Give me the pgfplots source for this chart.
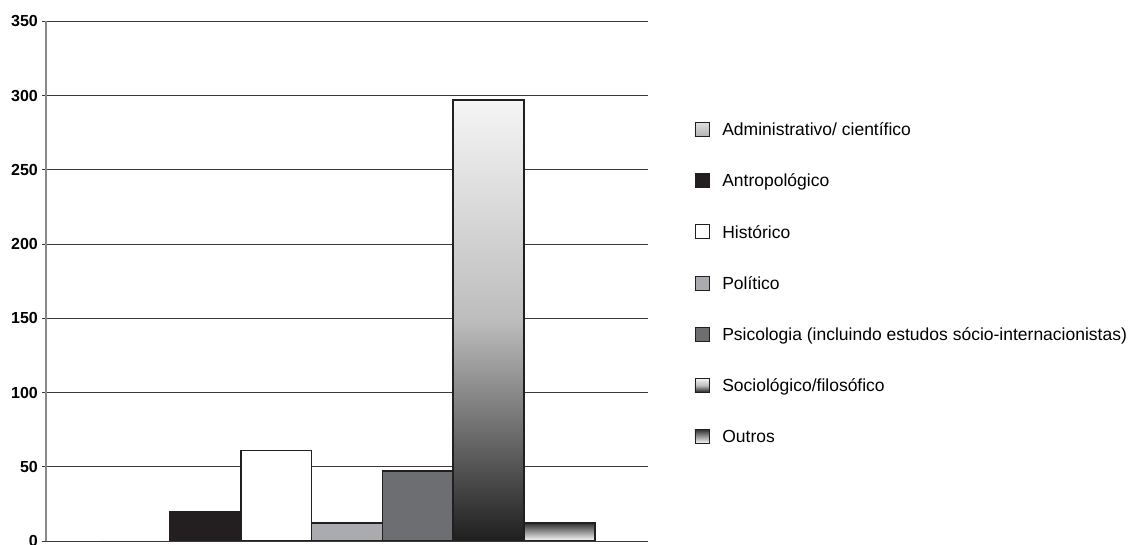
\documentclass[border=0pt]{standalone}
\usepackage{fontspec}
\setmainfont{Liberation Sans}
\usepackage{pgfplots}
\pgfplotsset{compat=1.18}

\definecolor{antro}{HTML}{231F20}
\definecolor{polit}{HTML}{A9ABAE}
\definecolor{psico}{HTML}{6D6E71}
\definecolor{admin}{HTML}{D1D2D4}
\definecolor{gridc}{HTML}{3A3A3A}
\definecolor{yaxisc}{HTML}{8A8A8A}
\definecolor{edge}{HTML}{231F20}

\begin{document}
\begin{tikzpicture}
\begin{axis}[
  name=ax,
  scale only axis,
  width=602pt, height=519.5pt,
  xmin=-1.248, xmax=7.248,
  ymin=0, ymax=350,
  ytick={0,50,...,350},
  xtick=\empty,
  separate axis lines,
  axis x line*=bottom,
  x axis line style={draw=none},
  axis y line*=left,
  y axis line style={-, yaxisc, line width=1.6pt},
  ymajorgrids,
  major grid style={gridc, line width=0.9pt},
  ytick style={gridc, line width=0.9pt},
  tick align=outside,
  major tick length=4pt,
  /pgf/number format/assume math mode=true,
  yticklabel style={font=\bfseries\fontsize{16}{16}\selectfont, inner sep=0pt, xshift=-4pt},
  every axis plot/.append style={
    ybar, bar width=1, bar shift=0pt,
    draw=edge, line width=1.6pt,
    legend image code/.code={\draw[##1, draw=edge, line width=0.8pt] (0pt,-7pt) rectangle (14pt,7pt);}
  },
  legend style={
    draw=none, fill=none,
    at={(axis description cs:1.0769,0.4966)}, anchor=west,
    inner sep=0pt,
    font=\fontsize{17.5}{20}\selectfont,
    row sep=31.7pt, column sep=11pt,
  },
  legend cell align=left,
]
% a zero count draws no visible bar, only its legend key
\addplot[draw=none, fill=admin, top color=admin!70!white, bottom color=admin!85!black] coordinates {(0,0)};
\addplot[fill=antro] coordinates {(1,20)};
\addplot[fill=white] coordinates {(2,61)};
\addplot[fill=polit] coordinates {(3,12)};
\addplot[fill=psico] coordinates {(4,47)};
\addplot[top color=black!4, bottom color=black!88, middle color=black!26] coordinates {(5,297)};
\addplot[top color=black!80, bottom color=white] coordinates {(6,12)};
\legend{\strut Administrativo/ científico,
        \strut Antropológico,
        \strut Histórico,
        \strut Político,
        \strut Psicologia (incluindo estudos sócio-internacionistas),
        \strut Sociológico/filosófico,
        \strut Outros}
\end{axis}
\pgfresetboundingbox
\path[use as bounding box] ([xshift=-46pt,yshift=-4pt]ax.south west) rectangle ([xshift=480pt,yshift=21.5pt]ax.north east);
\end{tikzpicture}
\end{document}
